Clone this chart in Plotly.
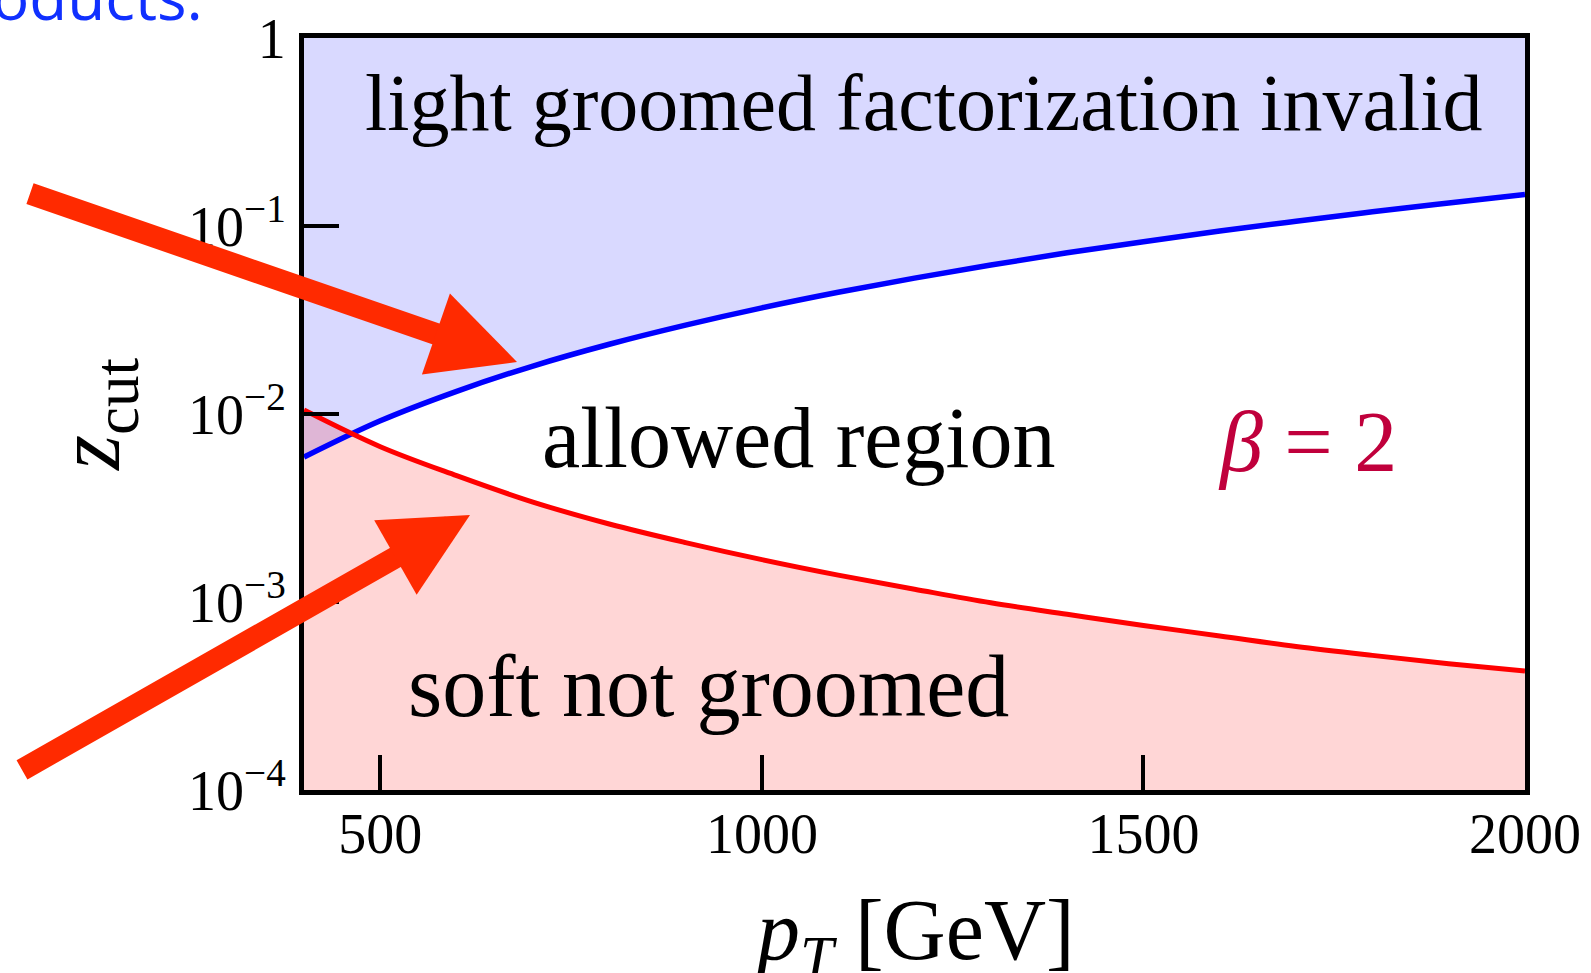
import plotly.graph_objects as go

# ---- data ----
pt = [400, 500, 600, 700, 800, 900, 1000, 1100, 1200, 1300, 1400,
      1500, 1600, 1700, 1800, 1900, 2000]
z_upper = [0.0059, 0.0092, 0.0132, 0.0180, 0.0235, 0.0297, 0.0367, 0.0444,
           0.0528, 0.0620, 0.0720, 0.0825, 0.0940, 0.1060, 0.1190, 0.1325, 0.147]
z_lower = [0.0105, 0.0067, 0.0047, 0.0034, 0.0026, 0.00207, 0.00168, 0.00139,
           0.00117, 0.00099, 0.00086, 0.00075, 0.00066, 0.00058, 0.00052,
           0.00047, 0.00043]

y_min, y_max = 1e-4, 1.0
x_min, x_max = 400, 2000

x_tickvals = [500, 1000, 1500, 2000]
x_ticktext = ["500", "1000", "1500", "2000"]
y_tickvals = [1e-4, 1e-3, 1e-2, 1e-1, 1]
y_ticktext = ["10<sup>\u22124</sup>", "10<sup>\u22123</sup>", "10<sup>\u22122</sup>",
              "10<sup>\u22121</sup>", "1"]

x_title = "<i>p</i><sub><i>T</i></sub> [GeV]"
y_title = "<i>z</i><sub>cut</sub>"
label_top = "light groomed factorization invalid"
label_mid = "allowed region"
label_bot = "soft not groomed"
label_beta = "<i>\u03b2</i> = 2"

SERIF = "Liberation Serif"

fig = go.Figure()

# filled regions
fig.add_trace(go.Scatter(
    x=pt + pt[::-1], y=z_upper + [y_max] * len(pt),
    fill="toself", fillcolor="rgba(0,0,255,0.15)", line=dict(width=0),
    mode="lines", hoverinfo="skip", showlegend=False))
fig.add_trace(go.Scatter(
    x=pt + pt[::-1], y=z_lower + [y_min] * len(pt),
    fill="toself", fillcolor="rgba(255,0,0,0.16)", line=dict(width=0),
    mode="lines", hoverinfo="skip", showlegend=False))

# boundary curves
fig.add_trace(go.Scatter(x=pt, y=z_upper, mode="lines",
                         line=dict(color="#0000FF", width=5.5, shape="spline"),
                         showlegend=False))
fig.add_trace(go.Scatter(x=pt, y=z_lower, mode="lines",
                         line=dict(color="#FF0000", width=5, shape="spline"),
                         showlegend=False))

W, H = 1591, 973
L, R, T, B = 304, 66, 38, 183
pw, ph = W - L - R, H - T - B


def px(xp):
    return (xp - L) / pw


def py(yp):
    return (H - B - yp) / ph


annotations = [
    dict(text=label_top, x=px(923), y=py(103), font=dict(size=80, family=SERIF, color="black")),
    dict(text=label_mid, x=px(798), y=py(438), font=dict(size=86, family=SERIF, color="black")),
    dict(text=label_bot, x=px(708), y=py(686), font=dict(size=88, family=SERIF, color="black")),
    dict(text=label_beta, x=px(1307), y=py(442), font=dict(size=86, family=SERIF, color="#C0003C")),
    dict(text=x_title, x=px(913), y=py(936), font=dict(size=86, family=SERIF, color="black")),
    dict(text="oducts.", x=px(-10), y=py(-4), xanchor="left",
         font=dict(size=62, family="Open Sans", color="#1030FF")),
]
for a in annotations:
    a.update(xref="paper", yref="paper", showarrow=False)
    a.setdefault("xanchor", "center")
    a["yanchor"] = "middle"

# slide arrows (decoration)
arrows = [
    dict(tip=(517, 362), tail=(28, 193)),
    dict(tip=(470, 515), tail=(20, 771)),
]
for ar in arrows:
    tx, ty = ar["tip"]
    sx, sy = ar["tail"]
    annotations.append(dict(
        x=px(tx), y=py(ty), xref="paper", yref="paper", text=" ",
        font=dict(size=2),
        showarrow=True, ax=sx - tx, ay=sy - ty, axref="pixel", ayref="pixel",
        arrowcolor="#FF2A00", arrowwidth=22, arrowhead=2, arrowsize=0.78,
        standoff=0, startstandoff=0))

fig.update_layout(
    width=W, height=H,
    margin=dict(l=L, r=R, t=T, b=B, autoexpand=False),
    paper_bgcolor="white", plot_bgcolor="white",
    font=dict(family=SERIF, color="black"),
    annotations=annotations,
    xaxis=dict(
        range=[x_min, x_max], tickvals=x_tickvals, ticktext=x_ticktext,
        showgrid=False, zeroline=False, automargin=False,
        showline=True, linecolor="black", linewidth=5, mirror=True,
        ticks="inside", ticklen=35, tickwidth=4, tickcolor="black",
        tickfont=dict(size=56, family=SERIF, color="black"),
        ticklabelstandoff=-9,
    ),
    yaxis=dict(
        type="log", range=[-4, 0], tickvals=y_tickvals, ticktext=y_ticktext,
        showgrid=False, zeroline=False, automargin=False,
        showline=True, linecolor="black", linewidth=5, mirror=True,
        ticks="inside", ticklen=35, tickwidth=4, tickcolor="black",
        tickfont=dict(size=56, family=SERIF, color="black"),
        ticklabelstandoff=2,
        title=dict(text=y_title,
                   font=dict(size=90, family=SERIF, color="black"), standoff=40),
    ),
)

fig.write_html("out.html")
